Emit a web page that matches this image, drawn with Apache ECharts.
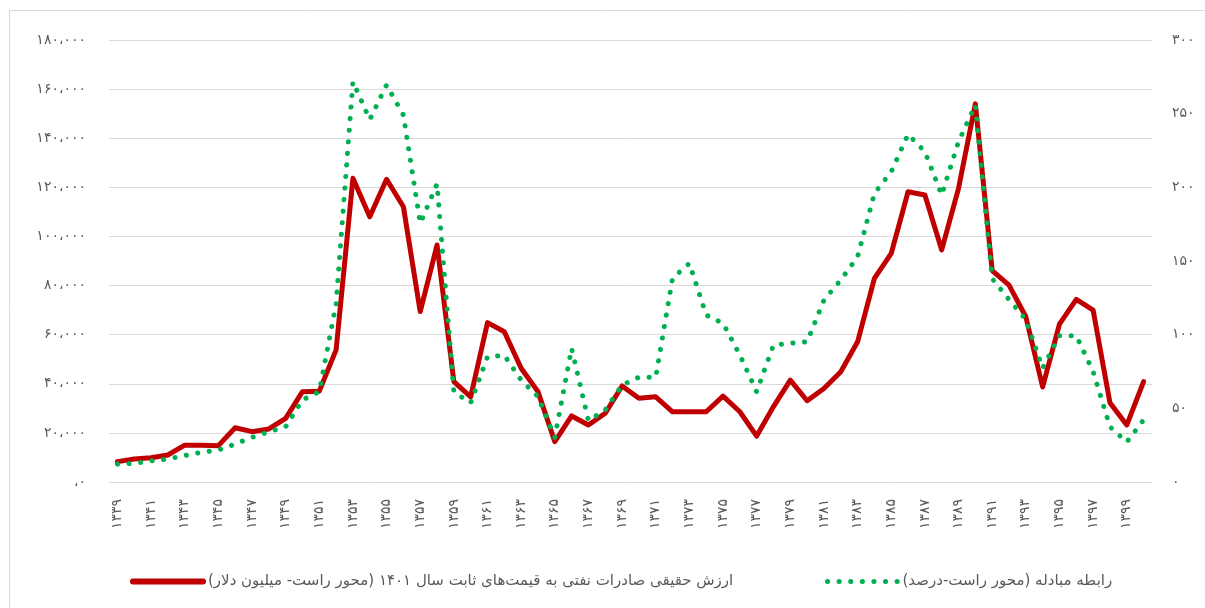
<!DOCTYPE html>
<html>
<head>
<meta charset="utf-8">
<script src="https://cdn.jsdelivr.net/npm/echarts@6/dist/echarts.min.js"></script>
<style>
html,body{margin:0;padding:0;background:#fff;}
#chart{width:1205px;height:608px;}
</style>
</head>
<body>
<div id="chart"></div>
<script>
// ---- data ----
const years = [1339,1340,1341,1342,1343,1344,1345,1346,1347,1348,1349,1350,1351,1352,1353,1354,1355,1356,1357,1358,1359,1360,1361,1362,1363,1364,1365,1366,1367,1368,1369,1370,1371,1372,1373,1374,1375,1376,1377,1378,1379,1380,1381,1382,1383,1384,1385,1386,1387,1388,1389,1390,1391,1392,1393,1394,1395,1396,1397,1398,1399,1400];
const oilExports = [8300,9400,9900,11000,15000,15000,14800,22100,20500,21600,25900,36800,37000,53800,123700,108000,123300,112100,69400,96500,40900,34700,64900,61200,46300,36800,16400,26900,23200,28000,39100,34100,34700,28600,28600,28600,35000,28600,18700,30700,41500,33100,38100,44900,57100,82900,93100,118200,116900,94500,119600,154000,86100,80200,67300,38700,64300,74400,70000,32300,23200,40900];
const termsOfTrade = [12.2,12.7,14.3,15.6,17.9,20.2,21.7,25.8,30.3,34.1,37.5,55.7,61.3,121,271.7,246,269.5,249,175.6,202.3,61,53.8,85,86,69.2,57.9,30.3,90.7,41.6,48.9,65.8,71.1,71.1,138.3,148.4,113.3,107.7,86.2,61.3,93,94.1,95.2,123.5,137.1,152.9,195.9,210.6,236,224.2,194.8,231,255.9,138,123.8,110.2,77.2,99.3,99.3,75,37.5,27.1,42.1];
const leftTicks = {min: 0, max: 180000, interval: 20000};
const rightTicks = {min: 0, max: 300, interval: 50};
const nameOil = 'ارزش حقیقی صادرات نفتی به قیمت‌های ثابت سال ۱۴۰۱ (محور راست- میلیون دلار)';
const nameTot = 'رابطه مبادله (محور راست-درصد)';

const FA = '۰۱۲۳۴۵۶۷۸۹';
const toFa = s => String(s).replace(/\d/g, d => FA[d]);
const RLM = '\u200F';
const fontFam = 'DejaVu Sans';
const grey = '#595959';
const red = '#C00000';
const green = '#00B050';
const dotPattern = [0.1, 11.5];

const chart = echarts.init(document.getElementById('chart'));
chart.setOption({
  animation: false,
  backgroundColor: '#fff',
  textStyle: {fontFamily: fontFam},
  graphic: [{
    type: 'rect', silent: true,
    shape: {x: 9.5, y: 10.5, width: 1400, height: 800},
    style: {fill: 'none', stroke: '#d9d9d9', lineWidth: 1}
  }],
  grid: {left: 109, right: 53, top: 40, bottom: 126, containLabel: false},
  legend: [
    {data: [{name: nameOil}], left: 125, top: 569, itemWidth: 70, itemHeight: 14,
     textStyle: {fontSize: 15, color: grey, fontFamily: fontFam},
     itemStyle: {opacity: 0},
     lineStyle: {width: 6, cap: 'round', color: red},
     formatter: n => RLM + n + RLM},
    {data: [{name: nameTot}], left: 820, top: 569, itemWidth: 70, itemHeight: 14,
     textStyle: {fontSize: 15, color: grey, fontFamily: fontFam},
     itemStyle: {opacity: 0},
     lineStyle: {width: 5, cap: 'round', type: dotPattern, color: green},
     formatter: n => RLM + n + RLM}
  ],
  xAxis: {
    type: 'category',
    data: years,
    boundaryGap: true,
    axisLine: {show: false},
    axisTick: {show: false},
    axisLabel: {
      interval: 1, rotate: 90, color: grey, fontSize: 14, margin: 17,
      formatter: v => toFa(v)
    }
  },
  yAxis: [{
    type: 'value', position: 'left',
    min: leftTicks.min, max: leftTicks.max, interval: leftTicks.interval,
    axisLine: {show: false}, axisTick: {show: false},
    splitLine: {lineStyle: {color: '#d9d9d9', width: 1}},
    axisLabel: {color: grey, fontSize: 14, margin: 23,
      formatter: v => v === 0 ? '،۰' : toFa(v.toLocaleString('en-US')).replace(/,/g, '،')}
  }, {
    type: 'value', position: 'right',
    min: rightTicks.min, max: rightTicks.max, interval: rightTicks.interval,
    axisLine: {show: false}, axisTick: {show: false},
    splitLine: {show: false},
    axisLabel: {color: grey, fontSize: 14, margin: 20, formatter: v => toFa(v)}
  }],
  series: [{
    name: nameOil, type: 'line', yAxisIndex: 0, data: oilExports,
    symbol: 'none', smooth: false,
    lineStyle: {color: red, width: 5, cap: 'round', join: 'round'},
    itemStyle: {color: red}
  }, {
    name: nameTot, type: 'line', yAxisIndex: 1, data: termsOfTrade,
    symbol: 'none', smooth: false,
    lineStyle: {color: green, width: 5, type: dotPattern, cap: 'round', join: 'round'},
    itemStyle: {color: green}
  }]
});
</script>
</body>
</html>
